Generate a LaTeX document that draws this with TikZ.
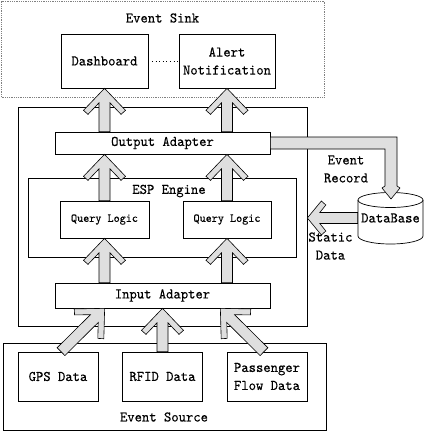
\documentclass[tikz,border=0pt]{standalone}
\usepackage{fontspec}
\setmonofont{lmmono10-regular.otf}[FakeBold=0.25, FakeStretch=0.95]
\usetikzlibrary{calc}
\newcommand\dfont{\fontsize{14.7}{18}\selectfont\ttfamily}
\newcommand\qfont{\fontsize{12.2}{14}\selectfont\ttfamily}
% #1 start, #2 tip, #3 head length, #4 head half width, #5 back corner dist, #6 back corner lateral, #7 inner join dist, #8 shaft half width
\newcommand\blockarrow[8]{%
  \coordinate (bah) at ($#2!#3!#1$);
  \coordinate (bac) at ($#2!#5!#1$);
  \coordinate (bai) at ($#2!#7!#1$);
  \filldraw[bigarrow] #2 -- ($(bah)!#4!90:#2$) -- ($(bac)!#6!90:#2$) -- ($(bai)!#8!90:#2$)
    -- ($#1!#8!90:#2$) -- ($#1!#8!-90:#2$) -- ($(bai)!#8!-90:#2$) -- ($(bac)!#6!-90:#2$)
    -- ($(bah)!#4!-90:#2$) -- cycle;}
\newcommand\bigA[2]{\blockarrow{#1}{#2}{22pt}{21pt}{26pt}{16.5pt}{14.5pt}{5.5pt}}
\begin{document}
\begin{tikzpicture}[x=1pt,y=-1pt,line width=0.7pt,
  box/.style={draw, fill=white, inner sep=0pt, align=center, font=\dfont},
  frame/.style={draw, inner sep=0pt},
  lbl/.style={inner sep=0pt, align=center, font=\dfont},
  bigarrow/.style={draw=black, fill=gray!25, line width=0.6pt, line join=miter}]
\useasboundingbox (0,0) rectangle (424,431);
% event sink
\node[frame, draw=gray, densely dotted, line width=0.8pt, minimum width=323pt, minimum height=96pt] (sink) at (163,49) {};
\node[lbl] (sinklbl) at (162.5,18) {Event Sink};
\node[box, minimum width=87pt, minimum height=54pt] (dash) at (104.5,61) {Dashboard};
\node[box, minimum width=96pt, minimum height=54pt] (alert) at (227,61) {Alert\\Notification};
\draw[dash pattern=on 1pt off 2.6pt] (dash) -- (alert);
% main block
\node[frame, minimum width=289pt, minimum height=219pt] (main) at (162.5,216.5) {};
\node[box, minimum width=215pt, minimum height=22pt] (outad) at (162.5,143) {Output Adapter};
\node[frame, minimum width=268pt, minimum height=79pt] (esp) at (162,217.5) {};
\node[lbl] (esplbl) at (169,191) {ESP Engine};
\node[box, font=\qfont, minimum width=89pt, minimum height=37pt] (ql1) at (104.5,219.5) {Query Logic};
\node[box, font=\qfont, minimum width=88pt, minimum height=37pt] (ql2) at (227,219.5) {Query Logic};
\node[box, minimum width=215pt, minimum height=25pt] (inad) at (162.5,295.5) {Input Adapter};
% event source
\node[frame, minimum width=323pt, minimum height=87pt] (src) at (164.5,386.5) {};
\node[lbl] (srclbl) at (164,417) {Event Source};
\node[box, minimum width=80pt, minimum height=49pt] (gps) at (58,376.5) {GPS Data};
\node[box, minimum width=80pt, minimum height=49pt] (rfid) at (162.5,376.5) {RFID Data};
\node[box, minimum width=80pt, minimum height=49pt] (pass) at (267,376.5) {Passenger\\Flow Data};
% database
\draw[fill=white] (358,200) -- (358,236) .. controls (358,240.4) and (372.55,244) .. (390.5,244)
  .. controls (408.45,244) and (423,240.4) .. (423,236) -- (423,200);
\draw (390.5,200) ellipse [x radius=32.5pt, y radius=7.5pt];
\node[lbl, minimum width=65pt, minimum height=52pt] (db) at (390.5,218) {DataBase};
\node[lbl] (erlbl) at (346,169) {Event\\Record};
\node[lbl] (sdlbl) at (330.5,246) {Static\\Data};
% arrows
\bigA{(dash.south |- outad.north)}{(dash.south)}
\bigA{(alert.south |- outad.north)}{(alert.south)}
\bigA{(ql1.north)}{(ql1.north |- outad.south)}
\bigA{(ql2.north)}{(ql2.north |- outad.south)}
\bigA{(ql1.south |- inad.north)}{(ql1.south)}
\bigA{(ql2.south |- inad.north)}{(ql2.south)}
\bigA{(rfid.north)}{(inad.south)}
\coordinate (gpsout) at ($(gps.north)+(3,0)$);
\coordinate (gpsin) at ($(inad.south west)+(50,0)$);
\coordinate (passout) at ($(pass.north)+(-3,0)$);
\coordinate (passin) at ($(inad.south east)+(-50,0)$);
\bigA{(gpsout)}{(gpsin)}
\bigA{(passout)}{(passin)}
\blockarrow{(db.west)}{(db.west -| main.east)}{14pt}{17pt}{18.5pt}{13pt}{12.5pt}{5.5pt}
\filldraw[bigarrow] ($(outad.east)+(0,-6)$) -- (397,137) -- (397,186) -- (400,188) -- (391,199)
  -- (382,188) -- (385,186) -- (385,149) -- ($(outad.east)+(0,6)$) -- cycle;
\end{tikzpicture}
\end{document}
